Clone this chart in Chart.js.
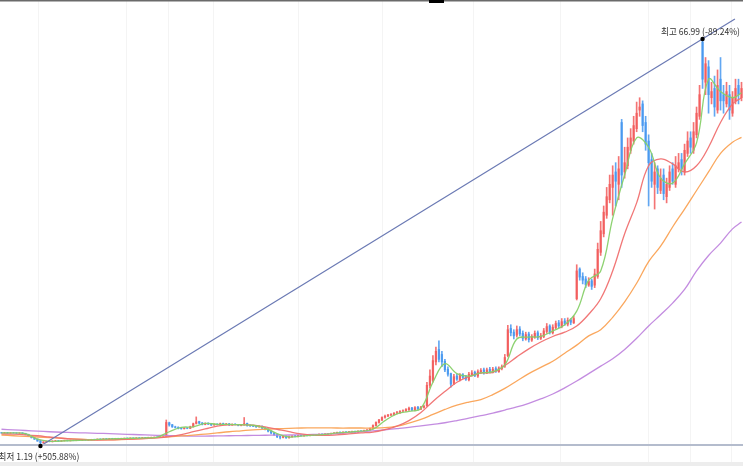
<!DOCTYPE html>
<html>
<head>
<meta charset="utf-8">
<script src="https://cdn.jsdelivr.net/npm/chart.js@4"></script>
<style>
  body { margin: 0; background: #fff; }
  #wrap { width: 743px; height: 466px; position: relative; }
</style>
</head>
<body>
<div id="wrap"><canvas id="chart"></canvas></div>
<script>
// candles (index 0..247), prices
var opens = [
  3.34,3.30,3.36,3.27,3.33,3.31,3.25,3.31,3.23,3.06,
  2.80,2.56,2.30,2.05,1.70,1.86,1.96,1.88,2.00,2.06,
  1.97,2.04,2.12,2.04,2.13,2.07,2.16,2.09,2.19,2.14,
  2.19,2.26,2.21,2.32,2.27,2.36,2.29,2.40,2.34,2.41,
  2.35,2.41,2.46,2.39,2.49,2.44,2.52,2.47,2.56,2.51,
  2.57,2.61,2.64,2.57,2.64,2.72,4.95,4.62,4.28,4.22,
  4.08,3.98,4.12,4.05,4.30,4.85,5.15,4.92,4.68,4.88,
  4.78,4.58,4.72,4.63,4.82,4.68,4.77,4.58,4.72,4.66,
  4.52,4.62,4.85,4.52,4.47,4.42,4.28,4.37,4.12,3.92,
  3.62,3.32,3.02,2.72,2.58,2.78,2.52,2.68,2.82,2.73,
  2.92,2.83,2.97,2.88,3.02,2.93,3.03,3.12,3.03,3.13,
  3.18,3.23,3.28,3.42,3.33,3.47,3.38,3.48,3.57,3.43,
  3.63,3.58,3.68,3.78,4.00,4.50,5.00,5.40,5.85,6.05,
  6.20,6.28,6.55,6.55,6.85,6.88,7.05,7.35,6.95,7.45,
  7.15,7.45,7.70,11.0,11.8,14.8,16.8,16.0,14.9,13.6,
  12.9,11.3,12.5,11.9,12.7,12.4,11.9,12.7,13.1,12.5,
  13.1,13.5,13.0,13.6,13.1,13.7,13.2,13.7,14.1,15.8,
  20.2,19.6,19.1,20.1,19.4,18.5,19.3,18.3,18.8,19.5,
  18.6,18.9,19.7,20.6,19.5,20.3,21.1,20.5,21.4,20.9,
  21.6,21.1,25.0,29.8,28.6,28.2,27.2,27.9,27.2,28.6,
  32.5,35.5,38.5,41.0,43.0,45.5,43.5,53.5,45.5,46.5,
  49.0,50.5,52.5,55.5,56.5,53.5,50.5,47.5,43.5,46.0,
  42.5,45.0,41.5,43.0,46.0,43.5,46.0,47.5,45.5,48.5,
  51.0,49.0,51.5,54.5,66.5,60.0,62.5,57.5,59.0,55.5,
  60.5,58.0,56.5,58.0,55.0,57.0,59.5,57.5
];
var highs = [
  3.40,3.40,3.40,3.36,3.38,3.35,3.34,3.34,3.26,3.10,
  2.84,2.60,2.35,2.10,1.90,2.00,2.00,2.04,2.10,2.10,
  2.08,2.14,2.15,2.16,2.16,2.20,2.20,2.22,2.22,2.24,
  2.28,2.30,2.34,2.35,2.38,2.40,2.42,2.44,2.44,2.45,
  2.46,2.48,2.50,2.52,2.52,2.54,2.56,2.58,2.60,2.62,
  2.64,2.66,2.68,2.68,2.74,5.40,5.05,4.70,4.40,4.30,
  4.15,4.15,4.20,4.40,4.90,5.90,5.20,5.00,4.95,4.95,
  4.85,4.78,4.80,4.90,4.90,4.85,4.85,4.78,4.80,4.70,
  4.70,5.80,4.90,4.60,4.55,4.50,4.45,4.45,4.20,4.00,
  3.70,3.40,3.10,2.80,2.85,2.85,2.80,2.88,2.90,2.95,
  2.98,3.00,3.02,3.05,3.08,3.10,3.15,3.18,3.20,3.25,
  3.30,3.35,3.45,3.48,3.50,3.52,3.55,3.60,3.62,3.65,
  3.70,3.75,3.85,4.10,4.60,5.10,5.50,5.90,6.20,6.30,
  6.45,6.60,6.80,6.90,7.05,7.25,7.50,7.45,7.55,7.60,
  7.60,7.80,11.5,13.5,15.8,17.2,18.2,16.5,15.2,14.0,
  13.0,12.8,12.8,12.9,12.9,12.6,13.1,13.4,13.3,13.5,
  13.7,13.8,13.8,13.9,13.9,14.0,14.0,14.3,16.0,20.7,
  20.8,20.0,20.6,20.5,19.8,19.6,19.6,19.2,19.8,19.8,
  19.4,20.2,21.0,20.8,20.8,21.4,21.5,21.8,21.8,21.9,
  21.8,22.2,30.5,30.0,29.2,28.6,28.4,28.2,29.8,34.0,
  37.5,40.0,43.0,45.0,46.5,47.0,48.0,54.0,49.5,51.0,
  52.5,54.5,56.8,57.5,57.0,54.5,51.5,48.5,47.0,46.5,
  46.0,46.0,44.5,46.5,47.0,48.0,48.5,48.5,50.0,52.0,
  52.0,53.5,56.0,59.5,66.99,64.0,63.5,60.0,61.0,62.0,
  64.0,59.5,60.0,59.5,58.5,60.5,60.5,60.0
];
var lows = [
  3.25,3.25,3.22,3.24,3.26,3.20,3.22,3.18,3.00,2.75,
  2.48,2.25,1.95,1.19,1.65,1.80,1.85,1.84,1.95,1.92,
  1.94,2.00,2.00,2.00,2.04,2.04,2.06,2.06,2.12,2.10,
  2.15,2.18,2.18,2.24,2.24,2.26,2.26,2.32,2.30,2.32,
  2.32,2.38,2.36,2.36,2.42,2.42,2.45,2.45,2.48,2.48,
  2.54,2.58,2.55,2.55,2.62,2.68,4.40,4.20,4.10,3.95,
  3.90,3.94,3.98,4.00,4.25,4.75,4.80,4.60,4.62,4.65,
  4.50,4.55,4.58,4.58,4.65,4.62,4.50,4.55,4.60,4.45,
  4.45,4.55,4.40,4.35,4.30,4.20,4.22,4.00,3.80,3.45,
  3.15,2.90,2.55,2.35,2.50,2.40,2.45,2.62,2.65,2.68,
  2.78,2.78,2.84,2.84,2.90,2.88,3.00,2.98,2.98,3.08,
  3.12,3.18,3.22,3.28,3.28,3.35,3.35,3.42,3.40,3.38,
  3.50,3.52,3.62,3.72,3.95,4.40,4.90,5.30,5.70,5.95,
  6.10,6.20,6.40,6.45,6.70,6.80,6.95,6.90,6.85,7.00,
  7.05,7.30,7.60,10.6,11.5,14.3,14.8,14.0,13.2,12.5,
  10.7,11.1,11.8,11.7,12.1,11.8,11.7,12.5,12.4,12.3,
  12.9,12.8,12.9,13.0,13.0,13.1,13.1,13.5,13.9,15.6,
  19.0,18.5,18.8,19.0,18.2,18.3,18.0,18.1,18.6,18.4,
  18.4,18.7,19.4,19.3,19.3,20.1,20.3,20.3,20.7,20.6,
  20.8,21.0,24.8,28.0,27.4,26.8,27.0,26.5,26.8,28.3,
  32.0,35.0,38.0,40.5,38.5,40.0,41.0,43.0,44.5,46.0,
  48.5,50.0,52.0,54.5,52.0,49.0,40.0,43.0,39.5,42.0,
  42.0,41.0,40.5,42.5,43.5,43.0,45.5,45.0,45.0,48.0,
  48.5,48.5,51.0,54.0,59.0,58.0,55.0,56.5,54.5,55.0,
  55.5,55.0,56.0,54.0,54.5,56.5,56.5,57.0
];
var closes = [
  3.30,3.35,3.28,3.32,3.30,3.26,3.30,3.22,3.05,2.80,
  2.55,2.30,2.00,1.75,1.85,1.95,1.90,2.00,2.05,1.98,
  2.05,2.10,2.05,2.12,2.08,2.15,2.10,2.18,2.15,2.20,
  2.25,2.22,2.30,2.28,2.35,2.30,2.38,2.35,2.40,2.36,
  2.42,2.45,2.40,2.48,2.45,2.50,2.48,2.55,2.52,2.58,
  2.60,2.62,2.58,2.65,2.70,5.00,4.60,4.30,4.20,4.05,
  4.00,4.10,4.05,4.30,4.80,5.10,4.90,4.70,4.85,4.75,
  4.60,4.70,4.65,4.80,4.70,4.75,4.60,4.70,4.65,4.55,
  4.60,4.80,4.50,4.45,4.40,4.30,4.35,4.10,3.90,3.60,
  3.30,3.00,2.70,2.60,2.75,2.55,2.70,2.80,2.75,2.90,
  2.85,2.95,2.90,3.00,2.95,3.05,3.10,3.05,3.15,3.20,
  3.25,3.30,3.40,3.35,3.45,3.40,3.50,3.55,3.45,3.60,
  3.60,3.70,3.80,4.00,4.50,5.00,5.40,5.80,6.00,6.20,
  6.30,6.50,6.60,6.80,6.90,7.10,7.30,7.00,7.40,7.20,
  7.50,7.60,11.0,12.5,15.0,16.5,15.2,14.8,13.5,12.8,
  11.2,12.4,12.0,12.6,12.3,12.0,12.8,13.0,12.6,13.2,
  13.4,13.0,13.5,13.2,13.6,13.3,13.8,14.0,15.5,20.0,
  19.5,19.0,20.0,19.3,18.6,19.2,18.4,18.9,19.4,18.7,
  19.0,19.8,20.5,19.6,20.4,21.0,20.6,21.3,21.0,21.5,
  21.2,21.8,29.5,28.5,28.0,27.3,27.8,27.0,29.0,33.0,
  36.0,39.0,41.5,43.5,45.0,44.0,46.0,45.0,47.0,49.5,
  51.0,53.0,55.0,56.0,53.0,50.0,47.0,44.0,45.5,43.0,
  44.5,42.0,43.5,45.5,44.0,46.5,47.0,46.0,49.0,50.5,
  49.5,52.0,55.0,58.0,60.5,63.0,58.0,58.5,56.0,59.5,
  57.0,57.0,58.5,55.5,57.5,59.0,58.0,59.0
];

// moving averages, read every 4th candle
var maIdx = [0,4,8,12,16,20,24,28,32,36,40,44,48,52,56,60,64,68,72,76,80,84,88,92,96,100,
  104,108,112,116,120,124,128,132,136,140,144,148,152,156,160,164,168,172,176,180,184,188,
  192,196,200,204,208,212,216,220,224,228,232,236,240,244,247];
var ma5 = [3.30,3.32,3.20,2.30,1.95,2.00,2.08,2.15,2.25,2.33,2.40,2.45,2.52,2.62,3.50,4.20,
  4.30,4.85,4.70,4.68,4.63,4.55,4.10,3.20,2.65,2.80,2.95,3.08,3.30,3.45,3.60,3.90,5.30,6.40,
  6.80,7.30,11.5,14.5,12.9,12.5,13.0,13.2,14.3,18.5,18.8,18.9,19.8,20.8,23.0,28.0,29.5,38.0,
  45.0,51.0,49.5,44.5,43.7,46.8,50.2,60.5,58.5,57.5,58.3];
var ma20 = [3.15,3.10,3.00,2.85,2.65,2.45,2.30,2.20,2.15,2.18,2.25,2.32,2.40,2.50,2.70,3.05,
  3.50,3.95,4.40,4.60,4.65,4.55,4.30,3.90,3.50,3.15,2.95,2.90,3.00,3.15,3.30,3.45,3.85,4.40,
  5.30,6.60,8.40,10.0,11.5,12.4,13.0,13.1,14.2,15.6,16.9,18.0,18.9,19.6,20.6,22.5,25.0,29.5,
  35.5,40.5,46.5,47.6,46.8,45.5,46.5,49.5,53.5,56.5,57.5];
var ma60 = [2.97,2.85,2.75,2.65,2.55,2.45,2.35,2.25,2.18,2.18,2.22,2.30,2.42,2.55,2.68,2.82,
  2.95,3.10,3.30,3.50,3.65,3.80,3.90,3.98,4.05,4.10,4.12,4.12,4.10,4.10,4.10,4.10,4.15,4.40,
  4.90,5.50,6.30,7.10,7.80,8.30,8.70,9.50,10.5,11.7,12.9,13.9,14.9,16.2,17.5,19.0,20.0,22.0,
  24.5,27.5,31.0,33.5,36.6,39.5,42.5,45.5,48.5,50.3,51.1];
var ma120 = [3.90,3.80,3.70,3.60,3.50,3.42,3.36,3.30,3.25,3.20,3.12,3.05,2.98,2.92,2.87,2.83,
  2.80,2.80,2.82,2.85,2.88,2.90,2.93,2.95,2.97,3.00,3.05,3.12,3.20,3.35,3.50,3.65,3.82,4.00,
  4.20,4.45,4.70,4.95,5.30,5.70,6.10,6.50,7.00,7.50,8.10,8.80,9.60,10.6,11.7,12.9,14.1,15.3,
  16.8,18.6,20.6,22.4,24.3,26.5,29.5,32.0,34.0,36.3,37.4];

// low / high marks and the line through them
var lowIdx = 13, lowVal = 1.19, lowText = '최저 1.19 (+505.88%)';
var highIdx = 234, highVal = 66.99, highText = '최고 66.99 (-89.24%)';
var trendX = [13, 244.8];
var trendY = [1.19, 70.21];

// vertical grid positions (candle index)
var gridIdx = [12.2, 41.6, 55.9, 70.6, 99, 127.3, 157.7, 186.7, 215.8, 230.1, 243.5];

var UP = 'rgba(242,92,92,0.85)';
var DOWN = 'rgba(70,152,240,0.85)';

function candleColor(ctx) {
  var i = ctx.dataIndex;
  return closes[i] >= opens[i] ? UP : DOWN;
}

function maData(vals) {
  return maIdx.map(function(x, k) { return {x: x, y: vals[k]}; });
}

function narrowText(c, text, x, y) {
  c.save();
  c.translate(x, y);
  c.scale(0.9, 1);
  c.fillText(text, 0, 0);
  c.restore();
}

var marks = {
  id: 'marks',
  afterDatasetsDraw: function(chart) {
    var c = chart.ctx, xs = chart.scales.x, ys = chart.scales.y;
    c.save();
    // baseline + bottom strip
    c.fillStyle = '#ededed';
    c.fillRect(0, 462, chart.width, 4);
    c.strokeStyle = '#b4bccd';
    c.lineWidth = 2;
    c.beginPath(); c.moveTo(0, 445); c.lineTo(chart.width, 445); c.stroke();
    // top border
    c.strokeStyle = '#6a6a6a';
    c.lineWidth = 1.5;
    c.beginPath(); c.moveTo(0, 0.75); c.lineTo(chart.width, 0.75); c.stroke();
    c.fillStyle = '#000';
    c.fillRect(429, 0, 15, 3);

    var lx = xs.getPixelForValue(lowIdx), ly = ys.getPixelForValue(lowVal);
    var hx = xs.getPixelForValue(highIdx), hy = ys.getPixelForValue(highVal);
    c.fillStyle = '#000';
    c.beginPath(); c.arc(lx, ly, 2.2, 0, Math.PI * 2); c.fill();
    c.beginPath(); c.arc(hx, hy, 2.2, 0, Math.PI * 2); c.fill();

    c.font = '9.5px "Liberation Sans Narrow", "Noto Sans CJK KR", sans-serif';
    c.fillStyle = '#333';
    c.textAlign = 'center';
    c.textBaseline = 'bottom';
    narrowText(c, highText, hx - 2, hy - 3);
    c.textBaseline = 'top';
    narrowText(c, lowText, lx - 1.5, ly + 6);
    c.restore();
  }
};

new Chart(document.getElementById('chart'), {
  type: 'bar',
  data: {
    datasets: [
      {
        type: 'line', data: trendX.map(function(x, k) { return {x: x, y: trendY[k]}; }),
        borderColor: '#6b7ab4', borderWidth: 1.2, pointRadius: 0, tension: 0, order: 0
      },
      {
        type: 'line', data: maData(ma5), borderColor: 'rgba(135,208,105,0.95)',
        borderWidth: 1.3, pointRadius: 0, tension: 0.4, order: 1
      },
      {
        type: 'line', data: maData(ma20), borderColor: 'rgba(240,112,112,0.95)',
        borderWidth: 1.3, pointRadius: 0, tension: 0.4, order: 1
      },
      {
        type: 'line', data: maData(ma60), borderColor: 'rgba(250,162,84,0.95)',
        borderWidth: 1.3, pointRadius: 0, tension: 0.4, order: 1
      },
      {
        type: 'line', data: maData(ma120), borderColor: 'rgba(192,134,222,0.95)',
        borderWidth: 1.3, pointRadius: 0, tension: 0.4, order: 1
      },
      {
        data: lows.map(function(l, i) { return {x: i, y: [l, highs[i]]}; }),
        backgroundColor: candleColor, barThickness: 1, grouped: false, order: 3
      },
      {
        data: opens.map(function(o, i) { return {x: i, y: [o, closes[i]]}; }),
        backgroundColor: candleColor, barThickness: 1.6, grouped: false, order: 2
      }
    ]
  },
  options: {
    responsive: true,
    maintainAspectRatio: false,
    animation: false,
    layout: { padding: 0 },
    plugins: { legend: { display: false }, tooltip: { enabled: false } },
    scales: {
      x: {
        type: 'linear', min: -0.5, max: 247.5, offset: false,
        grid: { color: '#f4f4f4', drawTicks: false, offset: false },
        border: { display: false },
        ticks: { display: false },
        afterBuildTicks: function(scale) {
          scale.ticks = gridIdx.map(function(v) { return {value: v}; });
        }
      },
      y: { display: false, min: -2.04, max: 73.3 }
    }
  },
  plugins: [marks]
});
</script>
</body>
</html>
